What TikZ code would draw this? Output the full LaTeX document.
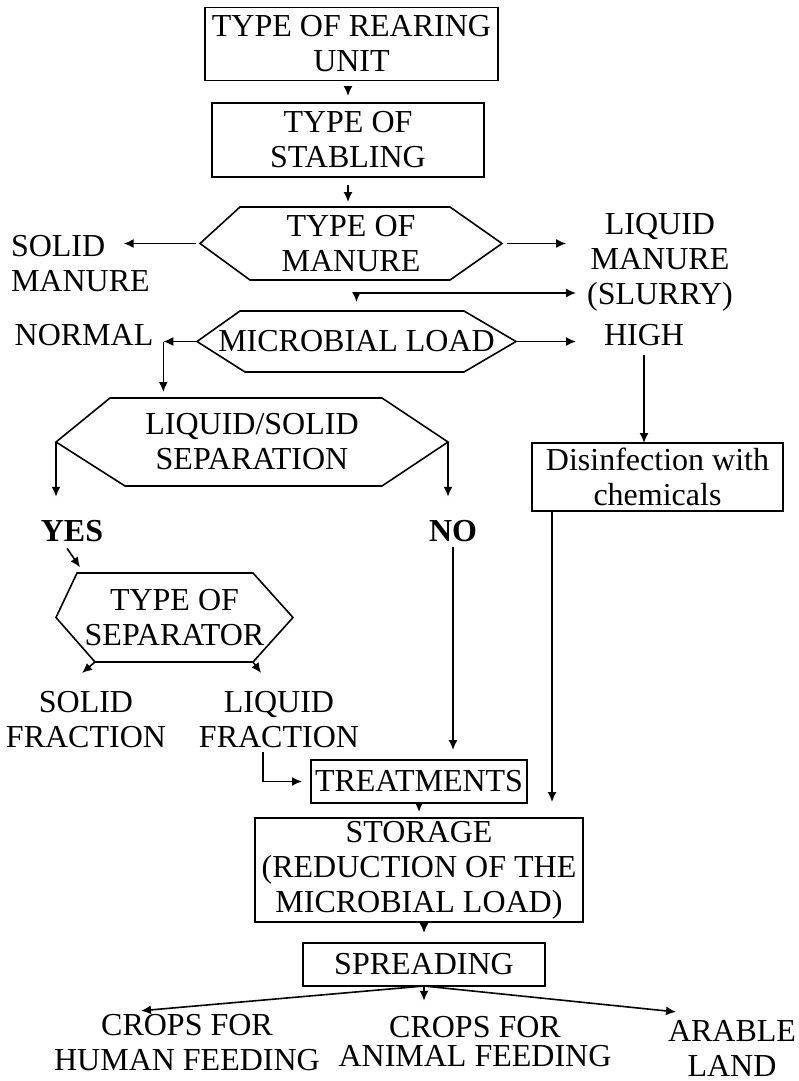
\documentclass[tikz,border=0pt]{standalone}
\usepackage{fontspec}
\setmainfont{Liberation Serif}
\usetikzlibrary{arrows.meta}
\begin{document}
\begin{tikzpicture}[x=1pt,y=-1pt,
  font=\fontsize{32}{35}\selectfont,
  line width=1.6pt,
  arr/.style={-{Latex[length=10pt,width=9pt]}},
  darr/.style={{Latex[length=10pt,width=9pt]}-{Latex[length=10pt,width=9pt]}},
  box/.style={draw, inner sep=0pt, outer sep=0pt, align=center},
  hexn/.style={inner sep=0pt, outer sep=0pt, align=center},
  lbl/.style={inner sep=0pt, outer sep=0pt, align=center},
]
\useasboundingbox (0,0) rectangle (799,1081);

% boxes
\node[box, minimum width=293, minimum height=73] (b1) at (351.5,44) {TYPE OF REARING\\UNIT};
\node[box, minimum width=272, minimum height=74] (b2) at (348,140) {TYPE OF\\STABLING};
\node[box, minimum width=251, minimum height=68] (dis) at (657.5,477) {Disinfection with\\chemicals};
\node[box, minimum width=216, minimum height=43] (tr) at (419,781.5) {TREATMENTS};
\node[box, minimum width=328, minimum height=104] (st) at (419,870) {STORAGE\\(REDUCTION OF THE\\MICROBIAL LOAD)};
\node[box, minimum width=242, minimum height=43] (sp) at (424,964.5) {SPREADING};

% hexagons
\node[hexn, minimum width=302, minimum height=73] (h1) at (351,243.5) {TYPE OF\\MANURE};
\draw (h1.west) -- ([xshift=40]h1.north west) -- ([xshift=-52]h1.north east) -- (h1.east)
  -- ([xshift=-52]h1.south east) -- ([xshift=50]h1.south west) -- cycle;
\node[hexn, minimum width=319, minimum height=61] (h2) at (356.5,341.5) {MICROBIAL LOAD};
\draw (h2.west) -- ([xshift=43]h2.north west) -- ([xshift=-52]h2.north east) -- (h2.east)
  -- ([xshift=-52]h2.south east) -- ([xshift=48]h2.south west) -- cycle;
\node[hexn, minimum width=392, minimum height=88] (h3) at (252,442) {LIQUID/SOLID\\SEPARATION};
\draw (h3.west) -- ([xshift=54]h3.north west) -- ([xshift=-66]h3.north east) -- (h3.east)
  -- ([xshift=-66]h3.south east) -- ([xshift=69]h3.south west) -- cycle;
\node[hexn, minimum width=237, minimum height=89] (h4) at (174.5,617.5) {TYPE OF\\SEPARATOR};
\draw (h4.west) -- ([xshift=21]h4.north west) -- ([xshift=-40]h4.north east) -- (h4.east)
  -- ([xshift=-40]h4.south east) -- ([xshift=39]h4.south west) -- cycle;

% labels
\node[lbl, align=left, anchor=west] (sm) at (11,264) {SOLID\\MANURE};
\node[lbl] (lm) at (660,262) {LIQUID\\MANURE\\(SLURRY)};
\node[lbl] (nm) at (84,335.5) {NORMAL};
\node[lbl] (hi) at (644,335.5) {HIGH};
\node[lbl, font=\fontsize{32}{35}\selectfont\bfseries] (yes) at (72,531.5) {YES};
\node[lbl, font=\fontsize{32}{35}\selectfont\bfseries] (no) at (453,531.5) {NO};
\node[lbl] (sf) at (86,720) {SOLID\\FRACTION};
\node[lbl] (lf) at (279,720) {LIQUID\\FRACTION};
\node[lbl] (hf) at (187,1043) {CROPS FOR\\HUMAN FEEDING};
\node[lbl, font=\fontsize{32}{29}\selectfont] (af) at (475,1042) {CROPS FOR\\ANIMAL FEEDING};
\node[lbl] (al) at (732,1048) {ARABLE\\LAND};

% connectors
\draw[arr, shorten <=5pt, shorten >=7pt] (b1.south -| b2.north) -- (b2.north);
\draw[arr, shorten <=8pt, shorten >=5pt] (b2.south) -- (b2.south |- h1.north);
\draw[arr, shorten <=4pt] (h1.west) -- ([xshift=-26]h1.west -| sm.east);
\draw[arr, shorten <=5pt, shorten >=21pt] (h1.east) -- (h1.east -| lm.west);
\coordinate (slurry) at (576,293);
\draw[darr, shorten <=9pt] (h2.north) |- (slurry);
\coordinate (j1) at ([xshift=10]nm.east |- h2.west);
\draw[arr] (h2.west) -- (j1);
\draw[arr, shorten >=6pt] (j1) -- (j1 |- h3.north);
\draw[arr, shorten >=28pt] (h2.east) -- (h2.east -| hi.west);
\draw[arr, shorten <=9pt] (hi.south) -- (hi.south |- dis.north);
\draw[arr] (h3.west) -- ([yshift=24]h3.west |- yes.north);
\draw[arr] (h3.east) -- ([yshift=24]h3.east |- no.north);
\draw[arr] ([xshift=-5,yshift=-6]yes.south) -- ([xshift=8,yshift=-25]yes.south);
\draw[arr] ([xshift=39]h4.south west) -- ++(-13,11);
\draw[arr] ([xshift=-40]h4.south east) -- ++(8,11);
\draw[arr, shorten <=5pt, shorten >=10pt] (no.south) -- (no.south |- tr.north);
\draw[arr, shorten >=9pt] ([xshift=-16,yshift=-4]lf.south) |- (tr.west);
\draw[arr, shorten >=16pt] ([xshift=20]dis.south west) -- ([xshift=20]dis.south west |- st.north);
\draw[arr, shorten >=6pt] (tr.south) -- (st.north);
\draw[arr, shorten >=10pt] (st.south -| sp.north) -- (sp.north);
\draw[arr] (sp.south) -- ([xshift=-46,yshift=4]hf.north);
\draw[arr, shorten >=16pt] (sp.south) -- (sp.south |- af.north);
\draw[arr] (sp.south) -- ([xshift=-56,yshift=8]al.north);
\end{tikzpicture}
\end{document}
